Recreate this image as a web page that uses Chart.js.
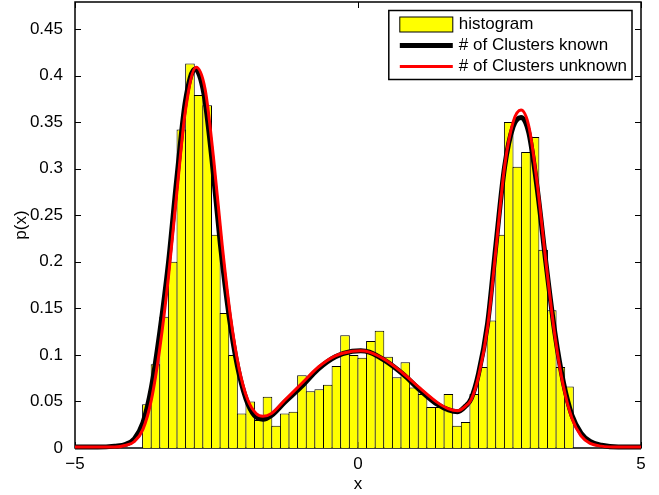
<!DOCTYPE html>
<html>
<head>
<meta charset="utf-8">
<script src="https://cdn.jsdelivr.net/npm/chart.js@4.4.1/dist/chart.umd.min.js"></script>
<style>
  html, body { margin: 0; padding: 0; background: #fff; }
  #wrap { width: 659px; height: 495px; }
</style>
</head>
<body>
<div id="wrap"><canvas id="chart" width="659" height="495"></canvas></div>
<script>
// histogram: 50 bins between about -3.8 and 3.8, values are densities
const histBinStart = -3.806;
const histBinWidth = 0.1522;
const histDensity = [
  0.047, 0.090, 0.141, 0.200, 0.342, 0.413, 0.379, 0.368, 0.229, 0.145,
  0.100, 0.037, 0.050, 0.030, 0.055, 0.024, 0.037, 0.039, 0.078, 0.061,
  0.063, 0.068, 0.088, 0.121, 0.100, 0.097, 0.115, 0.126, 0.098, 0.076,
  0.092, 0.065, 0.058, 0.044, 0.044, 0.058, 0.024, 0.028, 0.058, 0.087,
  0.137, 0.229, 0.350, 0.302, 0.318, 0.334, 0.213, 0.148, 0.087, 0.066
];

// fitted density, number of clusters known (black)
const knownX = [
  -5.0, -4.6, -4.3, -4.1, -3.95, -3.8, -3.65, -3.5, -3.35, -3.2, -3.05, -2.88,
  -2.72, -2.58, -2.43, -2.28, -2.13, -1.98, -1.83, -1.68, -1.53, -1.3, -1.0,
  -0.7, -0.4, -0.1, 0.05, 0.2, 0.5, 0.8, 1.1, 1.4, 1.6, 1.76, 1.9, 2.0, 2.13,
  2.29, 2.44, 2.59, 2.74, 2.88, 3.02, 3.17, 3.32, 3.48, 3.63, 3.78, 3.94, 4.1,
  4.3, 4.6, 5.0
];
const knownY = [
  0.001, 0.001, 0.002, 0.004, 0.010, 0.027, 0.065, 0.125, 0.198, 0.290, 0.372, 0.407,
  0.380, 0.310, 0.218, 0.143, 0.088, 0.053, 0.035, 0.031, 0.035, 0.049, 0.066,
  0.085, 0.098, 0.104, 0.1045, 0.103, 0.093, 0.079, 0.062, 0.047, 0.041, 0.039, 0.045, 0.053, 0.080,
  0.134, 0.220, 0.302, 0.345, 0.355, 0.338, 0.277, 0.199, 0.123, 0.070, 0.035, 0.016, 0.007,
  0.003, 0.001, 0.001
];

// fitted density, number of clusters unknown (red)
const unknownX = [
  -5.0, -4.6, -4.3, -4.1, -3.95, -3.8, -3.65, -3.5, -3.35, -3.2, -3.05, -2.86,
  -2.7, -2.55, -2.4, -2.25, -2.1, -1.95, -1.8, -1.68, -1.53, -1.3, -1.0,
  -0.7, -0.4, -0.1, 0.05, 0.2, 0.5, 0.8, 1.1, 1.4, 1.6, 1.76, 1.9, 2.0, 2.13,
  2.29, 2.44, 2.59, 2.74, 2.88, 3.02, 3.17, 3.32, 3.48, 3.63, 3.78, 3.94, 4.1,
  4.3, 4.6, 5.0
];
const unknownY = [
  0.001, 0.001, 0.001, 0.003, 0.007, 0.020, 0.052, 0.108, 0.183, 0.275, 0.362, 0.409,
  0.385, 0.310, 0.218, 0.140, 0.085, 0.052, 0.037, 0.034, 0.037, 0.051, 0.069,
  0.087, 0.099, 0.104, 0.1045, 0.103, 0.094, 0.080, 0.064, 0.049, 0.042, 0.040, 0.045, 0.052, 0.077,
  0.130, 0.215, 0.302, 0.350, 0.363, 0.345, 0.282, 0.200, 0.120, 0.066, 0.032, 0.013, 0.005,
  0.002, 0.001, 0.001
];

const xTickValues = [-5, 0, 5];
const yTickValues = [0, 0.05, 0.1, 0.15, 0.2, 0.25, 0.3, 0.35, 0.4, 0.45];
const legendLabels = ['histogram', '# of Clusters known', '# of Clusters unknown'];

const FONT = '"Liberation Sans", Arial, Helvetica, sans-serif';
const FONT_SIZE = 17;

function fmtTick(v) {
    const s = String(Math.round(v * 100) / 100);
    return s.replace('-', '\u2212');
}

function toPoints(xs, ys) {
    return xs.map((x, i) => ({ x: x, y: ys[i] }));
}

const histX = histDensity.map((_, i) => histBinStart + histBinWidth * (i + 0.5));

// box around the plot with inward ticks on all four sides (matlab style)
const axesBox = {
    id: 'axesBox',
    beforeDatasetsDraw(chart) {
        const { ctx, chartArea: a, scales: { x, y } } = chart;
        ctx.save();
        ctx.strokeStyle = '#000';
        ctx.lineWidth = 1;
        ctx.beginPath();
        yTickValues.forEach(v => {
            const py = Math.round(y.getPixelForValue(v)) + 0.5;
            ctx.moveTo(a.left, py); ctx.lineTo(a.left + 6, py);
            ctx.moveTo(a.right, py); ctx.lineTo(a.right - 6, py);
        });
        xTickValues.forEach(v => {
            const px = Math.round(x.getPixelForValue(v)) + 0.5;
            ctx.moveTo(px, a.bottom); ctx.lineTo(px, a.bottom - 6);
            ctx.moveTo(px, a.top); ctx.lineTo(px, a.top + 6);
        });
        ctx.stroke();
        ctx.lineWidth = 1.5;
        ctx.strokeRect(a.left, a.top, a.right - a.left, a.bottom - a.top);
        ctx.restore();
    }
};

// legend box in the upper right corner of the plot
const boxLegend = {
    id: 'boxLegend',
    afterDraw(chart) {
        const { ctx, chartArea: a } = chart;
        const sets = chart.data.datasets;
        ctx.save();
        ctx.font = FONT_SIZE + 'px ' + FONT;
        const textW = Math.max(...legendLabels.map(t => ctx.measureText(t).width));
        const w = 11 + 53 + 6 + textW + 5;
        const h = 69;
        const left = a.right - 9 - w;
        const top = a.top + 8.5;
        ctx.fillStyle = '#fff';
        ctx.fillRect(left, top, w, h);
        ctx.lineWidth = 1.5;
        ctx.strokeStyle = '#000';
        ctx.strokeRect(left, top, w, h);
        legendLabels.forEach((label, i) => {
            const cy = top + 14 + 21 * i;
            const sx = left + 11;
            const ds = sets[i];
            if (ds.type === 'bar') {
                ctx.fillStyle = ds.backgroundColor;
                ctx.fillRect(sx, cy - 7.5, 53, 15);
                ctx.lineWidth = 1;
                ctx.strokeStyle = ds.borderColor;
                ctx.strokeRect(sx, cy - 7.5, 53, 15);
            } else {
                ctx.lineWidth = ds.borderWidth;
                ctx.strokeStyle = ds.borderColor;
                ctx.beginPath();
                ctx.moveTo(sx, cy);
                ctx.lineTo(sx + 53, cy);
                ctx.stroke();
            }
            ctx.fillStyle = '#000';
            ctx.textBaseline = 'middle';
            ctx.textAlign = 'left';
            ctx.fillText(label, sx + 53 + 6, cy);
        });
        ctx.restore();
    }
};

const tickFont = { size: FONT_SIZE, family: FONT };

new Chart(document.getElementById('chart'), {
    type: 'bar',
    data: {
        datasets: [
            {
                type: 'bar',
                label: legendLabels[0],
                data: toPoints(histX, histDensity),
                backgroundColor: '#ffff00',
                borderColor: '#000',
                borderWidth: 1,
                barPercentage: 1.116, // bars overlap by 1px so neighbours share an edge
                categoryPercentage: 1,
                order: 3
            },
            {
                type: 'line',
                label: legendLabels[1],
                data: toPoints(knownX, knownY),
                borderColor: '#000',
                borderWidth: 5,
                pointRadius: 0,
                fill: false,
                cubicInterpolationMode: 'monotone',
                clip: false,
                order: 2
            },
            {
                type: 'line',
                label: legendLabels[2],
                data: toPoints(unknownX, unknownY),
                borderColor: '#ff0000',
                borderWidth: 3,
                pointRadius: 0,
                fill: false,
                cubicInterpolationMode: 'monotone',
                clip: false,
                order: 1
            }
        ]
    },
    options: {
        responsive: false,
        animation: false,
        layout: { padding: { top: 2, right: 18, left: 0, bottom: 0 } },
        plugins: {
            legend: { display: false },
            tooltip: { enabled: false }
        },
        scales: {
            x: {
                type: 'linear',
                min: -5,
                max: 5,
                offset: false,
                grid: { display: false, offset: false },
                border: { display: false },
                afterBuildTicks: s => { s.ticks = xTickValues.map(v => ({ value: v })); },
                afterFit: s => {
                    s.height = 47;
                    s.paddingLeft = 0;
                    s.paddingRight = 0;
                },
                ticks: { color: '#000', font: tickFont, padding: -2, maxRotation: 0, callback: fmtTick },
                title: { display: true, text: 'x', color: '#000', font: tickFont, padding: { top: 0, bottom: 0 } }
            },
            y: {
                type: 'linear',
                min: 0,
                max: 0.479,
                grid: { display: false },
                border: { display: false },
                afterBuildTicks: s => { s.ticks = yTickValues.map(v => ({ value: v })); },
                afterFit: s => {
                    s.width = 75;
                    s.paddingTop = 0;
                    s.paddingBottom = 0;
                },
                ticks: { color: '#000', font: tickFont, padding: 4, callback: fmtTick },
                title: { display: true, text: 'p(x)', color: '#000', font: tickFont, padding: { top: 11, bottom: 0 } }
            }
        }
    },
    plugins: [axesBox, boxLegend]
});
</script>
</body>
</html>
